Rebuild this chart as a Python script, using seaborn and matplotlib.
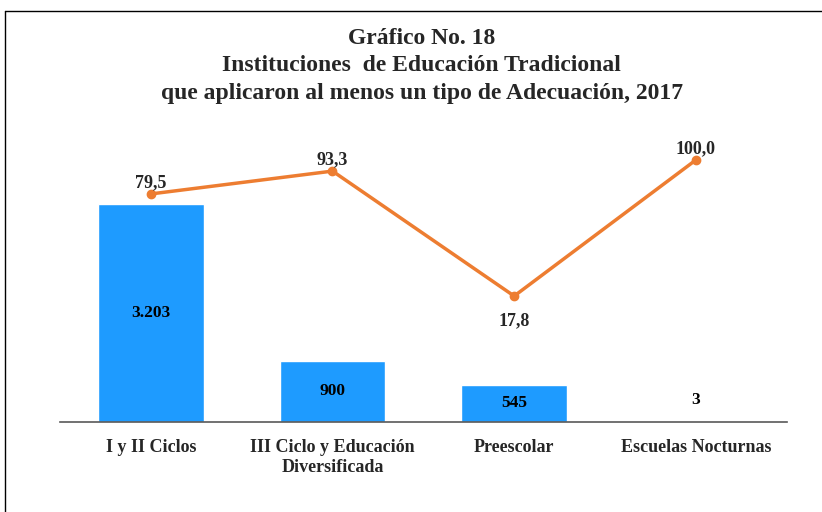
import matplotlib
matplotlib.use("Agg")
import matplotlib.pyplot as plt
import seaborn as sns
import pandas as pd
from matplotlib.lines import Line2D

# data
categorias = ["I y II Ciclos", "III Ciclo y Educación\nDiversificada", "Preescolar", "Escuelas Nocturnas"]
instituciones = [3203, 900, 545, 3]
porcentaje = [79.5, 93.3, 17.8, 100.0]
etiquetas_barras = ["3.203", "900", "545", "3"]
etiquetas_linea = ["79,5", "93,3", "17,8", "100,0"]

df = pd.DataFrame({"cat": categorias, "n": instituciones, "pct": porcentaje})

sns.set_theme(style="white")
plt.rcParams["font.family"] = ["Liberation Serif", "DejaVu Serif"]
plt.rcParams["font.weight"] = "bold"

fig = plt.figure(figsize=(8.22, 5.12), dpi=100)
ax = fig.add_axes([0.073, 0.1758, 0.884, 0.5508])

sns.barplot(data=df, x="cat", y="n", color="#1E9BFF", saturation=1, width=0.58, ax=ax)
ax.set_xlim(-0.5, 3.5)
ax.set_ylim(0, 4143)

# labels for bars
for i, (v, lab) in enumerate(zip(instituciones, etiquetas_barras)):
    if v > 300:
        ax.text(i, v / 2, lab, ha="center", va="center", fontsize=12.5, fontweight="bold", color="black")
    else:
        ax.annotate(lab, (i, v), xytext=(0, 10), textcoords="offset points",
                    ha="center", va="bottom", fontsize=12.5, fontweight="bold", color="black")

ax.set_xlabel("")
ax.set_ylabel("")
ax.set_yticks([])
ax.tick_params(axis="x", length=0, labelsize=13, pad=12)
for t in ax.get_xticklabels():
    t.set_fontweight("bold")
    t.set_linespacing(1.25)
for s in ["top", "right", "left"]:
    ax.spines[s].set_visible(False)
ax.spines["bottom"].set_color("#595959")
ax.spines["bottom"].set_linewidth(1.2)

# percentage line on a hidden secondary axis
ax2 = ax.twinx()
ax2.plot(range(len(categorias)), porcentaje, color="#ED7D31", linewidth=2.5,
         marker="o", markersize=6)
ax2.set_ylim(-58.3, 112.1)
ax2.set_xlim(-0.5, 3.5)
ax2.axis("off")
minimo = min(porcentaje)
for i, (v, lab) in enumerate(zip(porcentaje, etiquetas_linea)):
    if v == minimo:
        ax2.annotate(lab, (i, v), xytext=(0, -12), textcoords="offset points",
                     ha="center", va="top", fontsize=13, fontweight="bold")
    else:
        ax2.annotate(lab, (i, v), xytext=(0, 2), textcoords="offset points",
                     ha="center", va="bottom", fontsize=13, fontweight="bold")

fig.text(0.513, 0.946, "Gráfico No. 18\nInstituciones  de Educación Tradicional\nque aplicaron al menos un tipo de Adecuación, 2017",
         ha="center", va="top", fontsize=17, fontweight="bold", linespacing=1.42)

# frame around the chart
fig.add_artist(Line2D([5 / 822, 5 / 822], [0, 1 - 11 / 512], color="black", linewidth=1))
fig.add_artist(Line2D([5 / 822, 1], [1 - 11 / 512, 1 - 11 / 512], color="black", linewidth=1))

fig.savefig("out.png", dpi=100)
